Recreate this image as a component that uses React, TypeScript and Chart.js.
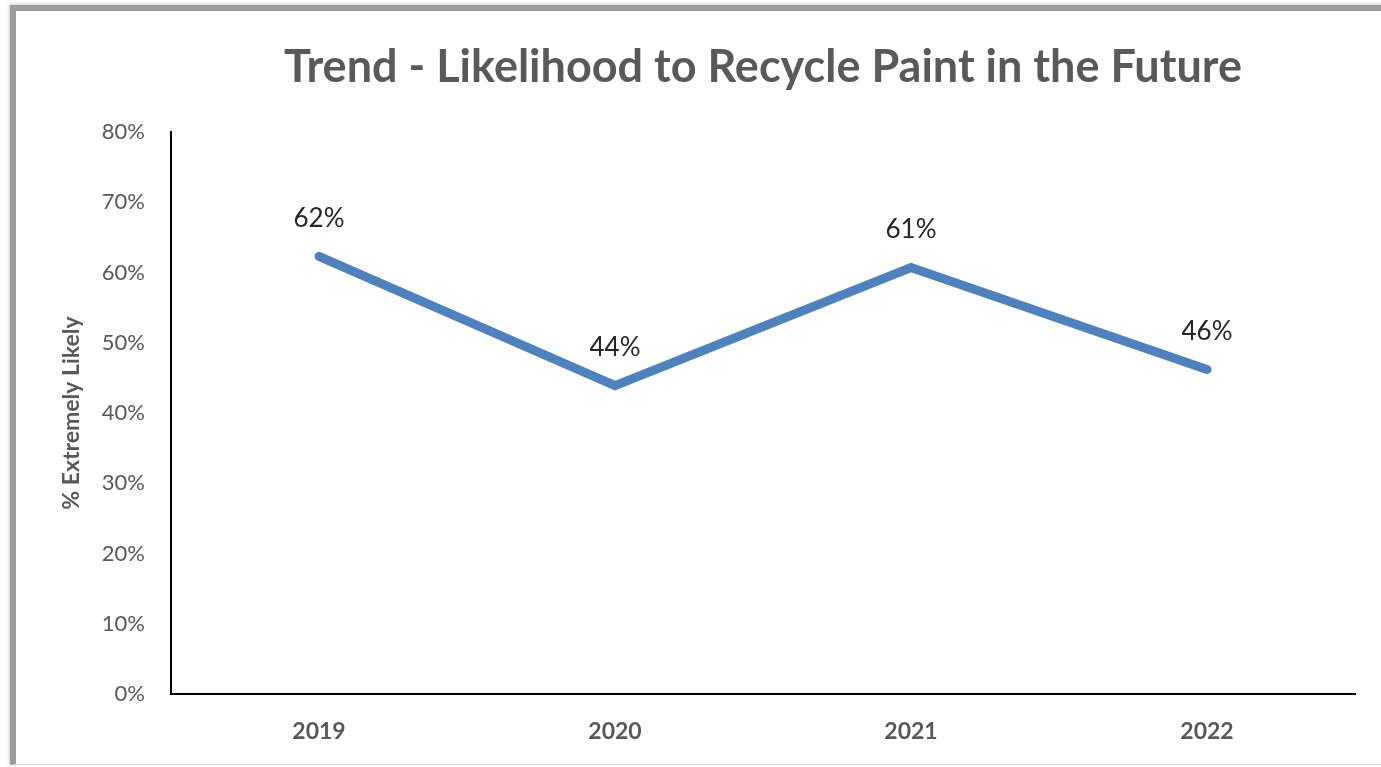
import React, { useEffect, useRef } from "react";
import { Chart, registerables } from "chart.js";

Chart.register(...registerables);

const categories = ["2019", "2020", "2021", "2022"];
const values = [62.3, 43.9, 60.7, 46.2];
const valueLabels = ["62%", "44%", "61%", "46%"];
const yTicks = [0, 10, 20, 30, 40, 50, 60, 70, 80];

const FONT = "Lato, 'Open Sans', sans-serif";

const dataLabelPlugin = {
  id: "dataLabels",
  afterDatasetsDraw(chart: any) {
    const ctx = chart.ctx;
    const meta = chart.getDatasetMeta(0);
    ctx.save();
    ctx.font = `26px ${FONT}`;
    ctx.fillStyle = "#262626";
    ctx.textAlign = "center";
    ctx.textBaseline = "middle";
    meta.data.forEach((pt: any, i: number) => {
      ctx.fillText(valueLabels[i], pt.x, pt.y - 38);
    });
    ctx.restore();
  },
};

export default function App() {
  const ref = useRef<HTMLCanvasElement | null>(null);
  useEffect(() => {
    if (!ref.current) return;
    const chart = new Chart(ref.current, {
      type: "line",
      data: {
        labels: categories,
        datasets: [
          {
            data: values,
            borderColor: "#4F81BD",
            backgroundColor: "#4F81BD",
            borderWidth: 9,
            borderCapStyle: "round",
            borderJoinStyle: "miter",
            pointRadius: 0,
            tension: 0,
          },
        ],
      },
      options: {
        animation: false,
        responsive: false,
        devicePixelRatio: 1,
        layout: { padding: { left: 0, right: 26, top: 0, bottom: 0 } },
        plugins: {
          legend: { display: false },
          tooltip: { enabled: false },
          title: {
            display: true,
            fullSize: false,
            text: "Trend - Likelihood to Recycle Paint in the Future",
            color: "#595959",
            font: { family: FONT, size: 45, weight: "bold" },
            padding: { top: 40, bottom: 38 },
          },
        },
        scales: {
          x: {
            offset: true,
            grid: { display: false, drawTicks: false },
            border: { display: true, color: "#000", width: 2 },
            ticks: {
              color: "#595959",
              font: { family: FONT, size: 23, weight: "bold" },
              padding: 24,
            },
            afterFit(scale: any) {
              scale.height = 73;
            },
          },
          y: {
            min: 0,
            max: 80,
            afterBuildTicks(scale: any) {
              scale.ticks = yTicks.map((v) => ({ value: v }));
            },
            grid: { display: false, drawTicks: false },
            border: { display: true, color: "#000", width: 2 },
            ticks: {
              color: "#595959",
              font: { family: FONT, size: 22 },
              padding: 26,
              callback: (v: any) => `${v}%`,
            },
            title: {
              display: true,
              text: "% Extremely Likely",
              color: "#595959",
              font: { family: FONT, size: 23, weight: "bold" },
              padding: { top: 58, bottom: 0 },
            },
            afterFit(scale: any) {
              scale.width = 171;
            },
          },
        },
      },
      plugins: [dataLabelPlugin],
    });
    return () => chart.destroy();
  }, []);

  return (
    <div style={{ position: "fixed", left: 0, top: 0, width: 1381, height: 767, background: "#fff", overflow: "hidden" }}>
      <canvas ref={ref} width={1381} height={767} style={{ position: "absolute", left: 0, top: 0, width: 1381, height: 767 }} />
      <div
        style={{
          position: "absolute",
          left: 10,
          top: 5,
          width: 1400,
          height: 753,
          borderTop: "6px solid #9c9c9c",
          borderLeft: "6px solid #9c9c9c",
          borderBottom: "1px solid #d9d9d9",
          boxShadow: "-1px -1px 3px #c8c8c8",
          pointerEvents: "none",
        }}
      />
    </div>
  );
}
